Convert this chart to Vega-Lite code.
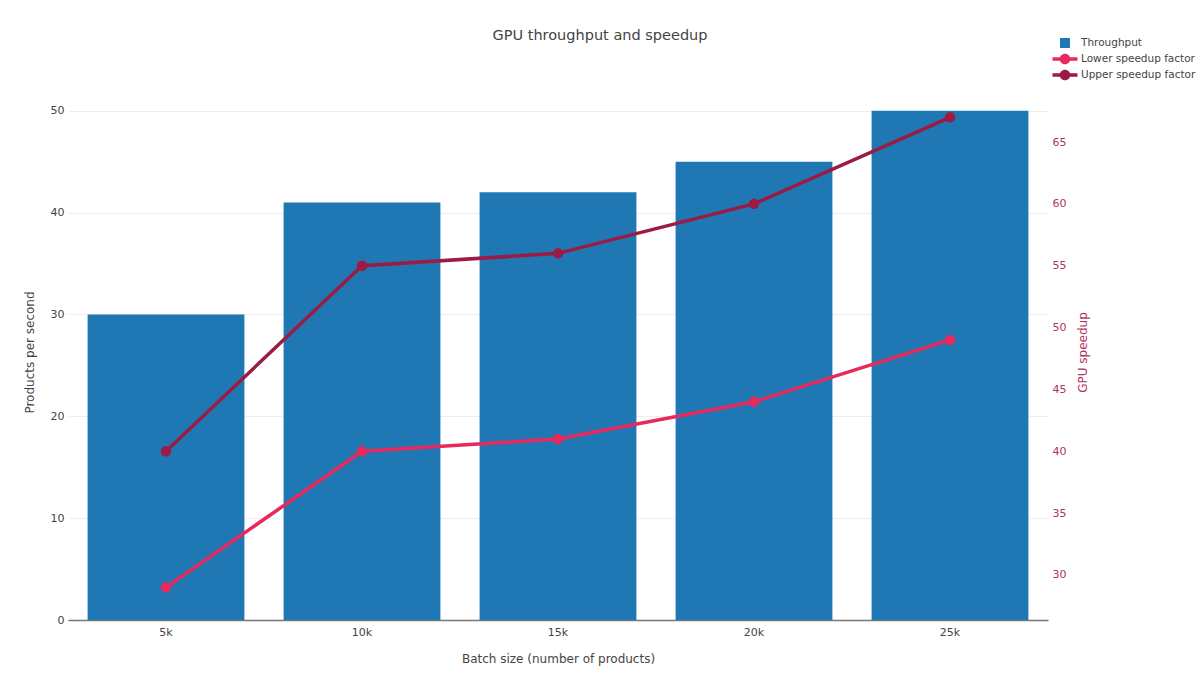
{
  "$schema": "https://vega.github.io/schema/vega-lite/v6.json",
  "width": 980,
  "height": 536,
  "autosize": {"type": "none"},
  "padding": {"left": 68, "top": 84, "right": 152, "bottom": 67},
  "background": "white",
  "title": {"text": "GPU throughput and speedup", "fontSize": 14.5, "font": "DejaVu Sans", "fontWeight": "normal", "color": "#444", "anchor": "middle", "offset": -10, "frame": "group", "dx": 42},
  "config": {
    "view": {"stroke": null},
    "font": "DejaVu Sans",
    "axis": {"labelFont": "DejaVu Sans", "titleFont": "DejaVu Sans", "labelColor": "#444", "titleColor": "#444", "labelFontSize": 11, "titleFontSize": 12, "titleFontWeight": "normal", "gridColor": "#eeeeee", "ticks": false, "domain": false}
  },
  "datasets": {
    "bars": [
      {"batch": "5k", "throughput": 30},
      {"batch": "10k", "throughput": 41},
      {"batch": "15k", "throughput": 42},
      {"batch": "20k", "throughput": 45},
      {"batch": "25k", "throughput": 50}
    ],
    "lines": [
      {"batch": "5k", "series": "Lower speedup factor", "speedup": 29},
      {"batch": "10k", "series": "Lower speedup factor", "speedup": 40},
      {"batch": "15k", "series": "Lower speedup factor", "speedup": 41},
      {"batch": "20k", "series": "Lower speedup factor", "speedup": 44},
      {"batch": "25k", "series": "Lower speedup factor", "speedup": 49},
      {"batch": "5k", "series": "Upper speedup factor", "speedup": 40},
      {"batch": "10k", "series": "Upper speedup factor", "speedup": 55},
      {"batch": "15k", "series": "Upper speedup factor", "speedup": 56},
      {"batch": "20k", "series": "Upper speedup factor", "speedup": 60},
      {"batch": "25k", "series": "Upper speedup factor", "speedup": 67}
    ]
  },
  "encoding": {
    "x": {"field": "batch", "type": "nominal", "sort": ["5k", "10k", "15k", "20k", "25k"],
      "scale": {"paddingInner": 0.2, "paddingOuter": 0.1},
      "axis": {"title": "Batch size (number of products)", "labelAngle": 0, "labelPadding": 6, "titlePadding": 16, "domain": true, "domainColor": "#777", "domainWidth": 1.5}}
  },
  "layer": [
    {
      "data": {"name": "bars"},
      "mark": {"type": "bar", "color": "#1f77b4"},
      "encoding": {
        "y": {"field": "throughput", "type": "quantitative", "scale": {"domain": [0, 52.63], "nice": false},
          "axis": {"title": "Products per second", "values": [0, 10, 20, 30, 40, 50], "titlePadding": 14, "labelPadding": 4}},
        "color": {"datum": "Throughput", "type": "nominal",
          "scale": {"domain": ["Throughput", "Lower speedup factor", "Upper speedup factor"], "range": ["#1f77b4", "#e8295c", "#9c1b42"]},
          "legend": {"title": null, "orient": "none", "legendX": 987, "legendY": -51, "labelFontSize": 10.5, "labelColor": "#444", "labelFont": "DejaVu Sans", "rowPadding": 0, "symbolSize": 256, "symbolStrokeWidth": 0, "labelLimit": 200, "labelOffset": 6,
            "encode": {"symbols": {"update": {
              "shape": {"signal": "datum.value === 'Throughput' ? 'square' : 'M-1.3,-0.18H1.3V0.18H-1.3Z M0.55,0 A0.55,0.55 0 1 1 -0.55,0 A0.55,0.55 0 1 1 0.55,0 Z'"},
              "size": {"signal": "datum.value === 'Throughput' ? 100 : 370"},
              "fillOpacity": {"value": 1}, "strokeWidth": {"value": 0}}}}}}
      }
    },
    {
      "data": {"name": "lines"},
      "mark": {"type": "line", "strokeWidth": 3.5, "point": {"size": 110, "filled": true, "opacity": 1}},
      "encoding": {
        "y": {"field": "speedup", "type": "quantitative", "scale": {"domain": [26.36, 69.69], "nice": false},
          "axis": {"orient": "right", "title": "GPU speedup", "titleAngle": 270, "values": [30, 35, 40, 45, 50, 55, 60, 65], "labelColor": "#b2325f", "titleColor": "#b2325f", "titlePadding": 24, "labelPadding": 4}},
        "color": {"field": "series", "type": "nominal", "legend": {"title": null}}
      }
    }
  ],
  "resolve": {"scale": {"y": "independent"}}
}
